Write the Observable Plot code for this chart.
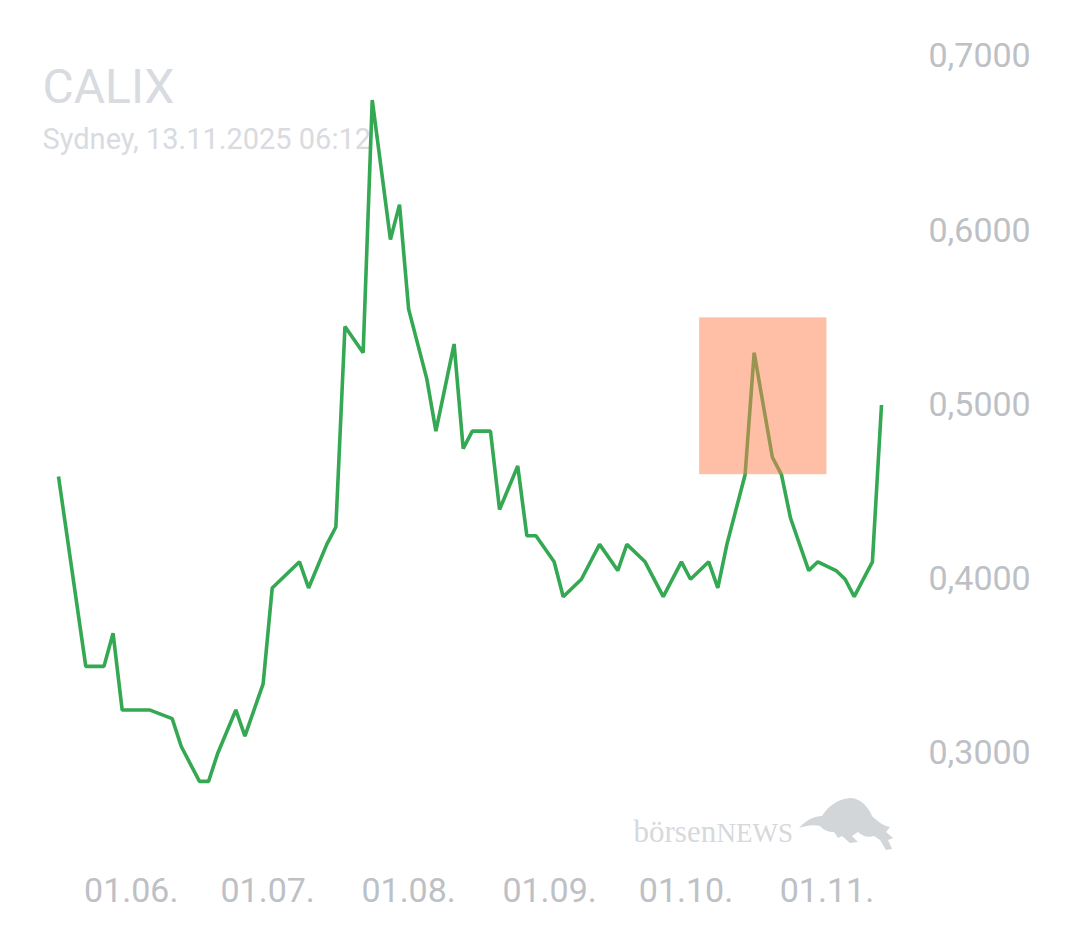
<!DOCTYPE html>
<html>
<head>
<meta charset="utf-8">
<script src="https://cdn.jsdelivr.net/npm/d3@7"></script>
<script src="https://cdn.jsdelivr.net/npm/@observablehq/plot@0.6"></script>
<style>
  html, body { margin: 0; padding: 0; background: #fff; }
  #wrap { position: relative; width: 1080px; height: 945px; }
  #bull { position: absolute; left: 0; top: 0; pointer-events: none; }
</style>
</head>
<body>
<div id="wrap"></div>
<script>
const title = "CALIX";
const subtitle = "Sydney, 13.11.2025 06:12";
const dates = [
  "2025-05-16","2025-05-22","2025-05-26","2025-05-28","2025-05-30","2025-06-03","2025-06-05",
  "2025-06-10","2025-06-12","2025-06-16","2025-06-18","2025-06-20","2025-06-24","2025-06-26",
  "2025-06-30","2025-07-02","2025-07-08","2025-07-10","2025-07-14","2025-07-16","2025-07-18",
  "2025-07-22","2025-07-24","2025-07-28","2025-07-30","2025-08-01","2025-08-05","2025-08-07",
  "2025-08-11","2025-08-13","2025-08-15","2025-08-19","2025-08-21","2025-08-25","2025-08-27",
  "2025-08-29","2025-09-02","2025-09-04","2025-09-08","2025-09-12","2025-09-16","2025-09-18",
  "2025-09-22","2025-09-26","2025-09-30","2025-10-02","2025-10-06","2025-10-08","2025-10-10",
  "2025-10-14","2025-10-16","2025-10-20","2025-10-22","2025-10-24","2025-10-28","2025-10-30",
  "2025-11-03","2025-11-05","2025-11-07","2025-11-11","2025-11-13"
];
const prices = [
  0.459, 0.350, 0.350, 0.369, 0.325, 0.325, 0.325,
  0.320, 0.304, 0.284, 0.284, 0.300, 0.325, 0.310,
  0.340, 0.395, 0.410, 0.395, 0.420, 0.430, 0.545,
  0.530, 0.675, 0.595, 0.615, 0.555, 0.515, 0.485,
  0.535, 0.475, 0.485, 0.485, 0.440, 0.465, 0.425,
  0.425, 0.410, 0.390, 0.400, 0.420, 0.405, 0.420,
  0.410, 0.390, 0.410, 0.400, 0.410, 0.395, 0.420,
  0.460, 0.530, 0.470, 0.460, 0.435, 0.405, 0.410,
  0.405, 0.400, 0.390, 0.410, 0.500
];
const yTicks = [0.3, 0.4, 0.5, 0.6, 0.7];
const xTicks = ["2025-06-01","2025-07-01","2025-08-01","2025-09-01","2025-10-01","2025-11-01"];
const highlightX = ["2025-10-04", "2025-11-01"];
const highlightY = [0.46, 0.55];

const data = dates.map((d, i) => ({date: new Date(d), price: prices[i]}));
const highlight = [{x1: new Date(highlightX[0]), x2: new Date(highlightX[1]), y1: highlightY[0], y2: highlightY[1]}];

const axisColor = "#bdc0c5";
const lightText = "#d8dbdf";

const chart = Plot.plot({
  width: 1080,
  height: 945,
  marginLeft: 58,
  marginRight: 199,
  marginTop: 56,
  marginBottom: 192,
  style: {fontFamily: "Roboto, sans-serif", background: "transparent"},
  x: {type: "utc", domain: [new Date("2025-05-16"), new Date("2025-11-13")]},
  y: {domain: [0.3, 0.7]},
  marks: [
    Plot.text([title], {frameAnchor: "top-left", dx: -16, dy: 31, text: d => d, fontSize: 48, fill: lightText, textAnchor: "start", lineAnchor: "middle"}),
    Plot.text([subtitle], {frameAnchor: "top-left", dx: -16, dy: 83, text: d => d, fontSize: 29, fill: lightText, textAnchor: "start", lineAnchor: "middle"}),
    Plot.text(["börsen"], {frameAnchor: "bottom-right", dx: 633 - 881, dy: 841 - 753, text: d => d, fontSize: 31, fill: "#d6d9dc", textAnchor: "start", lineAnchor: "bottom", fontFamily: "Liberation Serif, serif"}),
    Plot.text(["NEWS"], {frameAnchor: "bottom-right", dx: 716 - 881, dy: 841 - 753, text: d => d, fontSize: 27, fill: "#d6d9dc", textAnchor: "start", lineAnchor: "bottom", fontFamily: "Liberation Serif, serif"}),
    Plot.axisY({anchor: "right", ticks: yTicks, tickSize: 0, tickPadding: 47, fontSize: 34, color: axisColor, tickFormat: d => d.toFixed(4).replace(".", ",")}),
    Plot.axisX({anchor: "bottom", ticks: xTicks.map(d => new Date(d)), tickSize: 0, tickPadding: 124, fontSize: 34, color: axisColor, tickFormat: d3.utcFormat("%d.%m.")}),
    Plot.line(data, {x: "date", y: "price", stroke: "#34a853", strokeWidth: 3.6, strokeLinejoin: "miter", strokeLinecap: "butt"}),
    Plot.rect(highlight, {x1: "x1", x2: "x2", y1: "y1", y2: "y2", fill: "#ff7f50", fillOpacity: 0.5})
  ]
});
const wrap = document.getElementById("wrap");
wrap.appendChild(chart);
// decorative logo silhouette (bull) beside the watermark text
const ns = "http://www.w3.org/2000/svg";
const bull = document.createElementNS(ns, "svg");
bull.setAttribute("id", "bull");
bull.setAttribute("width", "1080");
bull.setAttribute("height", "945");
const p = document.createElementNS(ns, "path");
p.setAttribute("d", "M799,828 C806,820 814,816 822,816 C828,806 838,799 850,798 C860,798 868,806 872,816 C878,822 884,826 890,827 L886,832 L893,838 L888,840 L892,849 L886,850 L880,840 L874,836 C868,838 862,836 858,832 L852,836 L858,842 L850,843 L842,836 L838,838 L834,832 C828,832 824,830 820,826 C812,824 805,826 799,828 Z");
p.setAttribute("fill", "#d3d6d9");
bull.appendChild(p);
wrap.appendChild(bull);
</script>
</body>
</html>
